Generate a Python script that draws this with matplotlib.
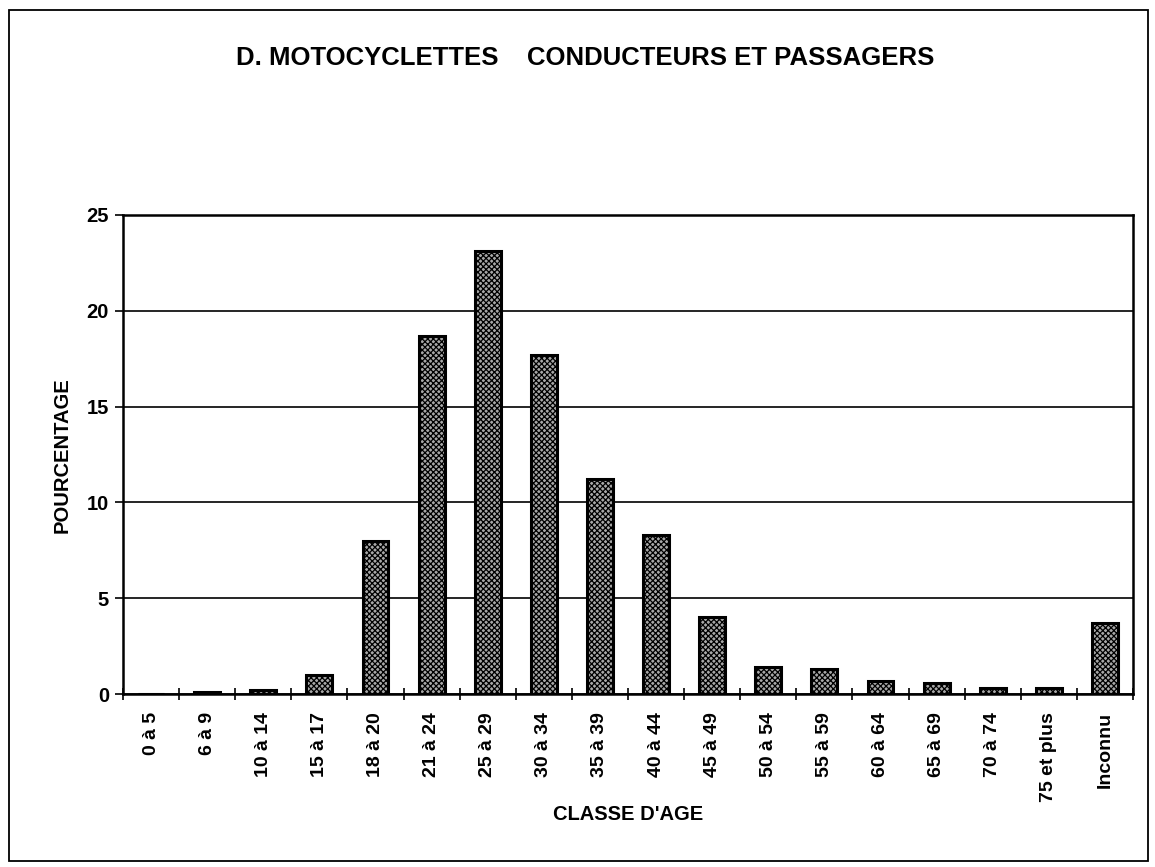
import matplotlib
matplotlib.use("Agg")
import matplotlib.pyplot as plt
from matplotlib.patches import Rectangle
import numpy as np

plt.rcParams['font.family'] = ['Liberation Sans', 'DejaVu Sans']
plt.rcParams['hatch.linewidth'] = 0.9

categories = ["0 à 5", "6 à 9", "10 à 14", "15 à 17", "18 à 20", "21 à 24",
              "25 à 29", "30 à 34", "35 à 39", "40 à 44", "45 à 49", "50 à 54",
              "55 à 59", "60 à 64", "65 à 69", "70 à 74", "75 et plus", "Inconnu"]
values = [0.0, 0.1, 0.2, 1.0, 8.0, 18.7, 23.1, 17.7, 11.2, 8.3, 4.0, 1.4,
          1.3, 0.7, 0.6, 0.3, 0.3, 3.7]
yticks = [0, 5, 10, 15, 20, 25]

title = "D. MOTOCYCLETTES    CONDUCTEURS ET PASSAGERS"
xlabel = "CLASSE D'AGE"
ylabel = "POURCENTAGE"

W, H = 1155, 867
fig = plt.figure(figsize=(W / 100, H / 100), dpi=100)
ax = fig.add_axes([123 / W, 1 - 694 / H, (1133 - 123) / W, (694 - 215) / H])

x = np.arange(len(categories))
ax.bar(x, values, width=0.46, facecolor='#a8a8a8', edgecolor='black',
       linewidth=2.2, hatch='xxxxxx', zorder=3)

ax.set_xlim(-0.5, len(categories) - 0.5)
ax.set_ylim(0, 25)
ax.set_yticks(yticks)
ax.set_yticklabels([str(v) for v in yticks], fontsize=14.5, fontweight='bold')
ax.yaxis.grid(True, color='black', linewidth=1.2, zorder=0)
ax.set_axisbelow(True)

# Category boundaries as major ticks, labels on minor ticks at centers
ax.set_xticks(np.arange(-0.5, len(categories), 1.0))
ax.set_xticklabels([])
ax.set_xticks(x, minor=True)
ax.set_xticklabels(categories, minor=True, rotation=90, fontsize=14,
                   fontweight='bold', va='top', ha='center')
ax.tick_params(axis='x', which='major', direction='inout', length=9, width=1.2)
ax.tick_params(axis='x', which='minor', length=0, pad=13)
ax.tick_params(axis='y', which='major', direction='out', length=6, width=1.2, pad=4)

for s in ax.spines.values():
    s.set_linewidth(1.8)
    s.set_color('black')

fig.text(585 / W, 1 - 58 / H, title, ha='center', va='center',
         fontsize=18.5, fontweight='bold')
fig.text(628 / W, 1 - 815 / H, xlabel, ha='center', va='center',
         fontsize=14.5, fontweight='bold')
fig.text(62 / W, 1 - 455 / H, ylabel, ha='center', va='center',
         rotation=90, fontsize=14.5, fontweight='bold')

fig.patches.append(Rectangle((9 / W, 1 - 861 / H), (1148 - 9) / W, (861 - 10) / H,
                             transform=fig.transFigure, fill=False,
                             edgecolor='black', linewidth=1.3))

fig.savefig("out.png", dpi=100)
